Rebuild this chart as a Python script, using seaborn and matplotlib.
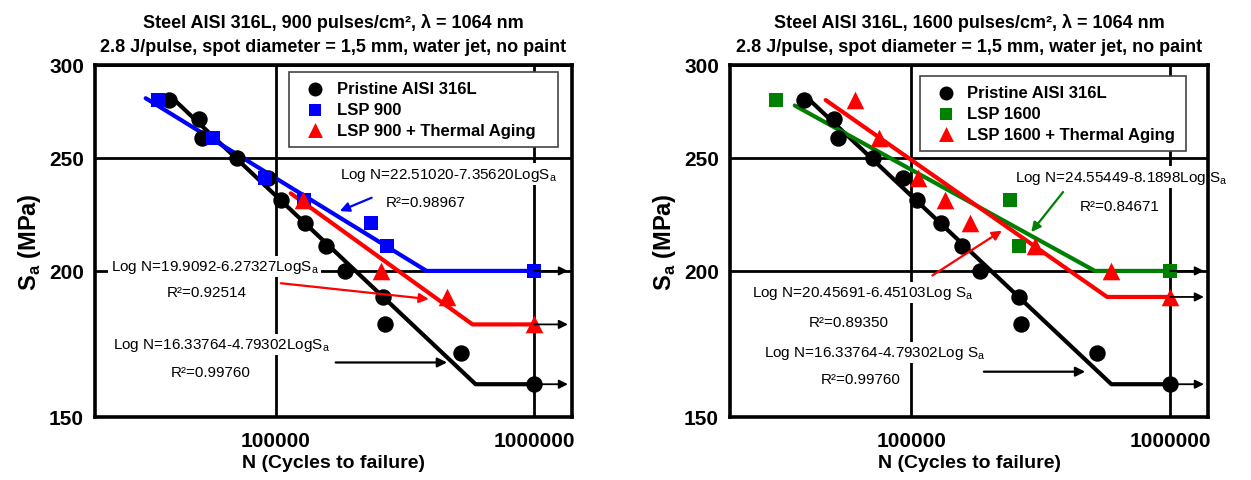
import numpy as np
import pandas as pd
import matplotlib
matplotlib.use('Agg')
import matplotlib.pyplot as plt
import seaborn as sns
from matplotlib.ticker import FixedLocator, FixedFormatter, NullFormatter, LogLocator

# ---------------- data ----------------
prist_N = [38500, 50500, 52000, 71000, 93000, 105000, 130000, 157000, 185000, 261000, 265000, 520000, 1000000]
prist_S = [280, 270, 260, 250, 240, 230, 220, 210, 200, 190, 180, 170, 160]

lsp900_N = [35000, 57000, 91000, 129000, 233000, 270000, 1000000]
lsp900_S = [280, 260, 240, 230, 220, 210, 200]

lsp900ta_N = [127000, 256000, 458000, 1000000]
lsp900ta_S = [230, 200, 190, 180]

lsp1600_N = [30000, 241000, 262000, 1000000]
lsp1600_S = [280, 230, 210, 200]

lsp1600ta_N = [60600, 75300, 106700, 134600, 169000, 302000, 592000, 1000000]
lsp1600ta_S = [280, 260, 240, 230, 220, 210, 200, 190]

# Basquin fits: Log N = a - b Log S ; (a, b, S at line start, endurance S)
fit_prist = (16.33764, 4.79302, 281, 160)
fit_900 = (22.51020, 7.35620, 281, 200)
fit_900ta = (19.9092, 6.27327, 233, 180)
fit_1600 = (24.55449, 8.1898, 277, 200)
fit_1600ta = (20.45691, 6.45103, 280, 190)

runout_N = 1000000
arrow_end_N = 1350000

titles = [
    "Steel AISI 316L, 900 pulses/cm\u00b2, \u03bb = 1064 nm\n2.8 J/pulse, spot diameter = 1,5 mm, water jet, no paint",
    "Steel AISI 316L, 1600 pulses/cm\u00b2, \u03bb = 1064 nm\n2.8 J/pulse, spot diameter = 1,5 mm, water jet, no paint",
]
labels_left = ["Pristine AISI 316L", "LSP 900", "LSP 900 + Thermal Aging"]
labels_right = ["Pristine AISI 316L", "LSP 1600", "LSP 1600 + Thermal Aging"]

y_ticks = [150, 200, 250, 300]
y_minor = [175, 225, 275]
x_ticks = [100000, 1000000]
x_ticklabels = ["100000", "1000000"]

# annotations: (text, N, S)
ann_left = [
    ("Log N=22.51020-7.35620LogS$_\\mathregular{a}$", 468000, 242),
    ("R\u00b2=0.98967", 379000, 229),
    ("Log N=19.9092-6.27327LogS$_\\mathregular{a}$", 58000, 201.6),
    ("R\u00b2=0.92514", 54000, 191.8),
    ("Log N=16.33764-4.79302LogS$_\\mathregular{a}$", 62000, 173),
    ("R\u00b2=0.99760", 55900, 163.9),
]
arr_left = [  # (N_from, S_from, N_to, S_to, color)
    (235000, 231, 177000, 225, 'blue'),
    (104700, 195.2, 391000, 189.2, 'red'),
    (170600, 167, 460000, 167, 'black'),
]
ann_right = [
    ("Log N=24.55449-8.1898Log S$_\\mathregular{a}$", 647000, 240.6),
    ("R\u00b2=0.84671", 636000, 227.3),
    ("Log N=20.45691-6.45103Log S$_\\mathregular{a}$", 65200, 191.8),
    ("R\u00b2=0.89350", 57700, 180.9),
    ("Log N=16.33764-4.79302Log S$_\\mathregular{a}$", 72400, 170.4),
    ("R\u00b2=0.99760", 64100, 161.6),
]
arr_right = [
    (386000, 233.6, 291000, 215.9, 'green'),
    (120800, 198.2, 224000, 216.5, 'red'),
    (191000, 164, 470000, 164, 'black'),
]

# ---------------- style ----------------
sns.set_theme(style='white')
plt.rcParams['font.family'] = ['Liberation Sans', 'DejaVu Sans']
plt.rcParams['mathtext.fontset'] = 'custom'
plt.rcParams['mathtext.rm'] = 'Liberation Sans'
plt.rcParams['text.color'] = 'black'
plt.rcParams['axes.labelcolor'] = 'black'
plt.rcParams['xtick.color'] = 'black'
plt.rcParams['ytick.color'] = 'black'
plt.rcParams['axes.titlecolor'] = 'black'

BLUE = '#0000ff'
RED = '#ff0000'
GREEN = '#008000'

fig = plt.figure(figsize=(12.51, 4.81), dpi=100)
ax_l = fig.add_axes([95 / 1251, 63 / 481, 477 / 1251, 352 / 481])
ax_r = fig.add_axes([730 / 1251, 63 / 481, 478 / 1251, 352 / 481])


def fit_line(fit):
    a, b, s0, s1 = fit
    n0 = 10 ** (a - b * np.log10(s0))
    n1 = 10 ** (a - b * np.log10(s1))
    return pd.DataFrame({'N': [n0, n1, runout_N], 'S': [s0, s1, s1]})


def setup(ax, title):
    ax.set_xscale('log')
    ax.set_yscale('log')
    ax.set_xlim(20000, 1400000)
    ax.set_ylim(150, 300)
    ax.yaxis.set_major_locator(FixedLocator(y_ticks))
    ax.yaxis.set_major_formatter(FixedFormatter([str(v) for v in y_ticks]))
    ax.yaxis.set_minor_locator(FixedLocator(y_minor))
    ax.yaxis.set_minor_formatter(NullFormatter())
    ax.xaxis.set_major_locator(FixedLocator(x_ticks))
    ax.xaxis.set_major_formatter(FixedFormatter(x_ticklabels))
    ax.xaxis.set_minor_locator(LogLocator(base=10, subs=np.arange(2, 10)))
    ax.xaxis.set_minor_formatter(NullFormatter())
    for sp in ax.spines.values():
        sp.set_linewidth(2.6)
        sp.set_color('black')
        sp.set_zorder(6)
    ax.tick_params(which='major', direction='out', length=5, width=2.4, color='black',
                   labelcolor='black', labelsize=15, pad=3)
    ax.tick_params(which='minor', direction='out', length=3.5, width=2.2, color='black')
    ax.tick_params(axis='x', which='major', pad=5)
    for lab in ax.get_xticklabels() + ax.get_yticklabels():
        lab.set_fontweight('bold')
    ax.grid(True, which='major', color='black', lw=2.0, zorder=1)
    ax.set_axisbelow(True)
    ax.set_title(title, fontsize=13, fontweight='bold', pad=10, linespacing=1.55,
                 color='black')
    ax.set_xlabel('N (Cycles to failure)', fontsize=14, fontweight='bold', labelpad=3,
                  color='black')
    ax.set_ylabel('S$_\\mathregular{a}$ (MPa)', fontsize=17, fontweight='bold', labelpad=4,
                  color='black')


def draw(ax, series, fits, anns, arrs, leg_box):
    for (N, S, color, marker, size, label) in series:
        sns.scatterplot(x=N, y=S, ax=ax, color=color, marker=marker, s=size,
                        edgecolor=color, linewidth=0, label=label, zorder=5)
    for fit, color in fits:
        df = fit_line(fit)
        sns.lineplot(data=df, x='N', y='S', ax=ax, color=color, lw=3.0, sort=False,
                     estimator=None, legend=False, zorder=4)
        ax.annotate('', xy=(arrow_end_N, fit[3]), xytext=(runout_N, fit[3]),
                    arrowprops=dict(arrowstyle='-|>', color='black', lw=1.3,
                                    mutation_scale=13, shrinkA=0, shrinkB=0), zorder=5)
    for txt, n, s in anns:
        ax.text(n, s, txt, ha='center', va='center', fontsize=11, color='black',
                bbox=dict(facecolor='white', edgecolor='none', pad=1.5), zorder=2)
    for n0, s0, n1, s1, c in arrs:
        ax.annotate('', xy=(n1, s1), xytext=(n0, s0),
                    arrowprops=dict(arrowstyle='-|>', color=c, lw=1.6,
                                    mutation_scale=14, shrinkA=0, shrinkB=0), zorder=5)
    leg = ax.legend(loc='upper left', bbox_to_anchor=leg_box, mode='expand', frameon=True,
                    fancybox=False, edgecolor='#444444', framealpha=1,
                    prop=dict(size=12, weight='bold'), handletextpad=0.3,
                    labelspacing=0.35, borderpad=0.55, markerscale=0.85,
                    handlelength=2.0, borderaxespad=0, labelcolor='black')
    leg.get_frame().set_linewidth(1.2)
    leg.set_zorder(7)


setup(ax_l, titles[0])
setup(ax_r, titles[1])

draw(ax_l,
     [(prist_N, prist_S, 'black', 'o', 140, labels_left[0]),
      (lsp900_N, lsp900_S, BLUE, 's', 105, labels_left[1]),
      (lsp900ta_N, lsp900ta_S, RED, '^', 160, labels_left[2])],
     [(fit_prist, 'black'), (fit_900, BLUE), (fit_900ta, RED)],
     ann_left, arr_left, (0.407, 0.77, 0.564, 0.21))

draw(ax_r,
     [(prist_N, prist_S, 'black', 'o', 140, labels_right[0]),
      (lsp1600_N, lsp1600_S, GREEN, 's', 105, labels_right[1]),
      (lsp1600ta_N, lsp1600ta_S, RED, '^', 160, labels_right[2])],
     [(fit_prist, 'black'), (fit_1600, GREEN), (fit_1600ta, RED)],
     ann_right, arr_right, (0.397, 0.767, 0.557, 0.202))

fig.savefig('out.png', dpi=100)
